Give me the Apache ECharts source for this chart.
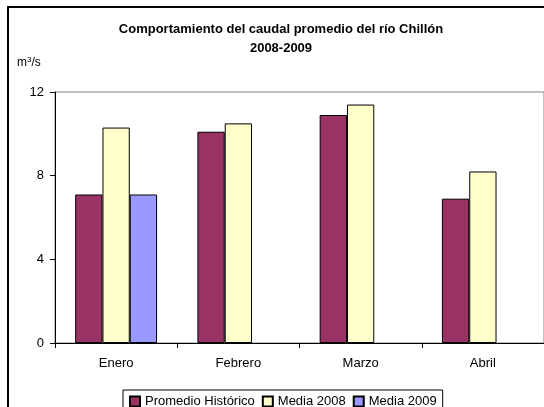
<!DOCTYPE html>
<html>
<head>
<meta charset="utf-8">
<script src="https://cdn.jsdelivr.net/npm/echarts@6/dist/echarts.min.js"></script>
<style>
  html, body { margin: 0; padding: 0; background: #fff; }
  #chart { width: 544px; height: 407px; }
</style>
</head>
<body>
<div id="chart"></div>
<script>
// datos
const meses = ['Enero', 'Febrero', 'Marzo', 'Abril']
const promedioHistorico = [7.1, 10.1, 10.9, 6.9]
const media2008 = [10.3, 10.5, 11.4, 8.2]
const media2009 = [7.1, null, null, null]
const yTicks = [0, 4, 8, 12]

const fuente = "'Liberation Sans', Arial, sans-serif"

const myChart = echarts.init(document.getElementById('chart'))

function barra(nombre, datos, color) {
  return {
    name: nombre,
    type: 'bar',
    data: datos,
    barGap: '0%',
    barCategoryGap: '33%',
    itemStyle: { color: color, borderColor: '#000', borderWidth: 1 },
  }
}

const option = {
  backgroundColor: '#fff',
  animation: false,
  textStyle: { fontFamily: fuente, color: '#000' },
  title: [
    {
      text: 'Comportamiento del caudal promedio del río Chillón\n2008-2009',
      left: 281,
      top: 20,
      textAlign: 'center',
      padding: 0,
      textStyle: { fontFamily: fuente, fontSize: 13, fontWeight: 'bold', color: '#000', lineHeight: 19 },
    },
    {
      text: 'm{sup|3}/s',
      left: 17,
      top: 56,
      padding: 0,
      textStyle: {
        fontFamily: fuente, fontSize: 12, fontWeight: 'normal', color: '#000',
        rich: { sup: { fontFamily: fuente, fontSize: 8, verticalAlign: 'top', padding: [0, 0, 6, 0], color: '#000' } },
      },
    },
  ],
  graphic: [
    {
      type: 'rect',
      shape: { x: 8, y: 7, width: 700, height: 600 },
      style: { fill: 'none', stroke: '#000', lineWidth: 2 },
      silent: true,
    },
  ],
  legend: {
    left: 123,
    top: 390,
    padding: [5, 6, 6, 6],
    icon: 'rect',
    itemWidth: 10,
    itemHeight: 10,
    itemGap: 7,
    borderColor: '#000',
    borderWidth: 1,
    backgroundColor: '#fff',
    textStyle: { fontFamily: fuente, fontSize: 13, color: '#000' },
    data: ['Promedio Histórico', 'Media 2008', 'Media 2009'],
  },
  grid: {
    left: 55,
    right: -6,
    top: 92,
    bottom: 64,
    show: true,
    borderColor: '#808080',
    borderWidth: 1,
  },
  xAxis: {
    type: 'category',
    data: meses,
    axisLine: { lineStyle: { color: '#000', width: 1 } },
    axisTick: { show: true, length: 5, lineStyle: { color: '#000' } },
    axisLabel: { margin: 14, fontSize: 13, color: '#000', fontFamily: fuente },
  },
  yAxis: {
    type: 'value',
    min: yTicks[0],
    max: yTicks[yTicks.length - 1],
    interval: 4,
    axisLine: { show: true, lineStyle: { color: '#000', width: 1 } },
    axisTick: { show: true, length: 5, lineStyle: { color: '#000' } },
    axisLabel: { margin: 11, fontSize: 13, color: '#000', fontFamily: fuente },
    splitLine: { show: false },
  },
  series: [
    barra('Promedio Histórico', promedioHistorico, '#993366'),
    barra('Media 2008', media2008, '#FFFFCC'),
    barra('Media 2009', media2009, '#9999FF'),
  ],
}

myChart.setOption(option)
</script>
</body>
</html>
